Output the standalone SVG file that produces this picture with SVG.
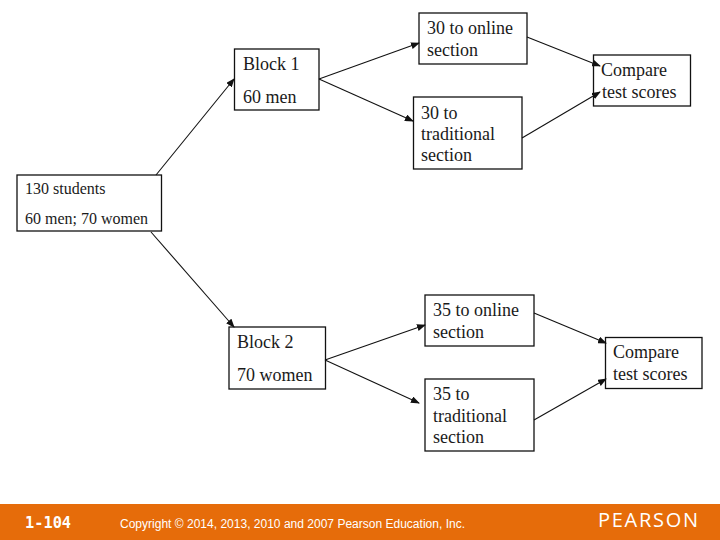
<svg xmlns="http://www.w3.org/2000/svg" width="720" height="540" viewBox="0 0 720 540">
<style>
.box{fill:#fff;stroke:#111;stroke-width:1.3}
.t{font-family:"Liberation Serif","Times New Roman",serif;font-size:18px;fill:#1a1a1a}
.s{font-size:16px}
.c{stroke:#111;stroke-width:1.1;fill:none;marker-end:url(#a)}
.f{font-family:"Liberation Sans",Arial,sans-serif;fill:#fff}
</style>
<defs><marker id="a" markerUnits="userSpaceOnUse" markerWidth="9" markerHeight="7" refX="8" refY="3.500" orient="auto"><path d="M0 0L9 3.500L0 7Z" fill="#111"/></marker></defs>
<rect width="720" height="540" fill="#fff"/>
<g id="root"><rect class="box" x="17" y="175" width="144.500" height="56"/><text class="t s" x="25" y="194">130 students</text><text class="t s" x="25" y="224">60 men; 70 women</text></g>
<g id="block1"><rect class="box" x="234.500" y="49" width="84.500" height="61"/><text class="t" x="243" y="70">Block 1</text><text class="t" x="243" y="103">60 men</text></g>
<g id="online1"><rect class="box" x="419" y="13" width="108" height="51"/><text class="t" x="427" y="34">30 to online</text><text class="t" x="427" y="56">section</text></g>
<g id="trad1"><rect class="box" x="413.500" y="97" width="108.500" height="72"/><text class="t" x="421" y="119">30 to</text><text class="t" x="421" y="140">traditional</text><text class="t" x="421" y="161">section</text></g>
<g id="compare1"><rect class="box" x="593.500" y="55" width="97" height="51"/><text class="t" x="601" y="76">Compare</text><text class="t" x="602" y="98">test scores</text></g>
<g id="block2"><rect class="box" x="229" y="327" width="96.500" height="62"/><text class="t" x="237" y="348">Block 2</text><text class="t" x="237" y="381">70 women</text></g>
<g id="online2"><rect class="box" x="425" y="295" width="109" height="51"/><text class="t" x="433" y="316">35 to online</text><text class="t" x="433" y="338">section</text></g>
<g id="trad2"><rect class="box" x="425" y="379" width="109" height="72"/><text class="t" x="433" y="400">35 to</text><text class="t" x="433" y="422">traditional</text><text class="t" x="433" y="443">section</text></g>
<g id="compare2"><rect class="box" x="605.500" y="337.500" width="96.500" height="51"/><text class="t" x="613" y="358">Compare</text><text class="t" x="613" y="380">test scores</text></g>
<g id="connectors">
<line class="c" x1="156" y1="175" x2="234" y2="79"/>
<line class="c" x1="151" y1="232" x2="234" y2="327"/>
<line class="c" x1="319" y1="79" x2="419" y2="43"/>
<line class="c" x1="319" y1="79" x2="413" y2="121"/>
<line class="c" x1="527" y1="37" x2="600" y2="66"/>
<line class="c" x1="522" y1="138" x2="600" y2="92"/>
<line class="c" x1="325" y1="360" x2="425" y2="325"/>
<line class="c" x1="325" y1="360" x2="419" y2="403"/>
<line class="c" x1="534" y1="313" x2="606" y2="343"/>
<line class="c" x1="534" y1="420" x2="606" y2="379"/>
</g>
<rect x="0" y="504" width="720" height="36" fill="#e66c0a"/>
<text x="25" y="528" font-family="'DejaVu Sans Mono',monospace" font-weight="700" font-size="15.300" fill="#fff">1-104</text>
<text class="f" x="120" y="528" font-size="12" textLength="345">Copyright © 2014, 2013, 2010 and 2007 Pearson Education, Inc.</text>
<text x="598" y="527" font-family="'Open Sans',sans-serif" font-size="20" font-weight="500" textLength="100" fill="#fff">PEARSON</text>
</svg>
